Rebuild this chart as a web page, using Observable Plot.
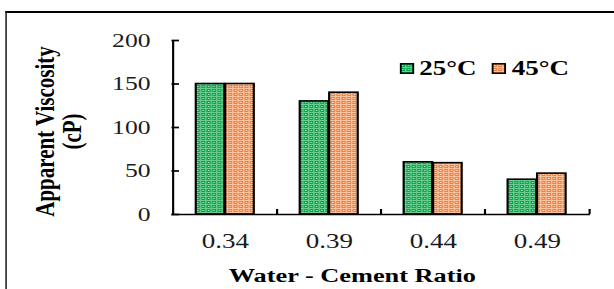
<!DOCTYPE html>
<html>
<head>
<meta charset="utf-8">
<script src="https://cdn.jsdelivr.net/npm/d3@7"></script>
<script src="https://cdn.jsdelivr.net/npm/@observablehq/plot@0.6"></script>
<style>
  html, body { margin: 0; padding: 0; background: #fff; width: 614px; height: 289px; overflow: hidden; }
  #wrap { position: absolute; left: 0; top: 0; width: 455px; height: 289px; transform: scaleX(1.35); transform-origin: 0 0; }
  #chart { position: absolute; left: 0; top: 0; width: 455px; height: 289px; }
  #chart svg { background: transparent; max-width: none; }
  #frame { position: absolute; left: 4.4px; top: 11px; width: 700px; height: 400px; border-left: 1.7px solid #000; border-top: 2.3px solid #000; }
  #legend { position: absolute; left: 295.6px; top: 57px; display: flex; align-items: center; font-family: "Liberation Serif", serif; font-weight: bold; font-size: 20px; color: #000; }
  #legend svg { display: block; margin-right: 4px; }
  #legend span { margin-right: 11px; line-height: 22px; }
</style>
</head>
<body>
<div id="wrap">
  <div id="chart"></div>
  <div id="frame"></div>
  <div id="legend"></div>
</div>
<script>
// ---- data ----
const ratios = ["0.34", "0.39", "0.44", "0.49"];
const series = ["25°C", "45°C"];
const visc25 = [150, 130, 60, 40];
const visc45 = [150, 140, 59, 47];
const yTicks = [0, 50, 100, 150, 200];
const yTitle = "Apparent Viscosity\n(cP)";
const xTitle = "Water - Cement Ratio";

// ---- layout ----
const W = 455, H = 289, mL = 127, mR = 18, mT = 40, mB = 75;
const frameW = W - mL - mR, frameH = H - mT - mB;
const padIn = 0.437;
const step = frameW / ratios.length;
const half = step * (1 - padIn) / 2;
const ink = "#000";

const rows25 = ratios.map((r, i) => ({ratio: r, v: visc25[i]}));
const rows45 = ratios.map((r, i) => ({ratio: r, v: visc45[i]}));

const defs = `
<pattern id="pg" width="4" height="4" patternUnits="userSpaceOnUse">
  <rect width="4" height="4" fill="#03a84f"/>
  <rect width="4" height="1" fill="#6ccb8e"/>
  <rect width="1" height="4" fill="#6ccb8e"/>
  <rect x="2" y="2" width="1" height="1" fill="#b5e8c6"/>
</pattern>
<pattern id="po" width="4" height="4" patternUnits="userSpaceOnUse">
  <rect width="4" height="4" fill="#ef7f3e"/>
  <rect width="4" height="1" fill="#f9c29c"/>
  <rect width="1" height="4" fill="#f9c29c"/>
  <rect x="2" y="2" width="1" height="1" fill="#fff1e6"/>
</pattern>`;

const plot = Plot.plot({
  width: W, height: H,
  marginLeft: mL, marginRight: mR, marginTop: mT, marginBottom: mB,
  style: {fontFamily: "'Liberation Serif', serif", color: ink, background: "transparent", overflow: "visible"},
  x: {domain: ratios, paddingInner: padIn, paddingOuter: padIn / 2, label: null},
  y: {domain: [0, 200], label: null},
  marks: [
    Plot.barY(rows25, {x: "ratio", y: "v", fill: "url(#pg)", stroke: ink, strokeWidth: 1.6, insetRight: half}),
    Plot.barY(rows45, {x: "ratio", y: "v", fill: "url(#po)", stroke: ink, strokeWidth: 1.6, insetLeft: half}),
    Plot.ruleY([0], {stroke: ink, strokeWidth: 1.7}),
    Plot.tickX([ratios[0]], {x: d => d, dx: -step / 2, stroke: ink, strokeWidth: 1.6}),
    Plot.tickY(yTicks, {y: d => d, insetRight: frameW - 5.6, stroke: ink, strokeWidth: 1.7}),
    Plot.tickX(ratios.slice(1), {x: d => d, dx: -step / 2, insetTop: frameH - 5, stroke: ink, strokeWidth: 1.6}),
    Plot.tickX([ratios[ratios.length - 1]], {x: d => d, dx: step / 2, insetTop: frameH - 5, stroke: ink, strokeWidth: 1.6}),
    Plot.axisY({ticks: yTicks, tickSize: 0, tickPadding: 16, fontSize: 19, fill: "#1a1a1a", label: null}),
    Plot.axisX({tickSize: 0, tickPadding: 19, fontSize: 20, fill: "#1a1a1a", label: null}),
    Plot.text([yTitle], {frameAnchor: "left", textAnchor: "middle", rotate: -90, dx: -83.8, dy: 4, lineHeight: 0.95, lineAnchor: "middle", fontSize: 21, fontWeight: "bold", fill: ink}),
    Plot.text([xTitle], {frameAnchor: "bottom", dx: -21.5, dy: 61, lineAnchor: "middle", fontSize: 19.5, fontWeight: "bold", fill: ink})
  ]
});
d3.select(plot).insert("defs", ":first-child").html(defs);
document.getElementById("chart").appendChild(plot);

// ---- legend ----
const legend = d3.select("#legend");
const pats = ["url(#pg)", "url(#po)"];
series.forEach((s, i) => {
  const sv = legend.append("svg").attr("width", 11).attr("height", 11);
  sv.append("rect").attr("x", 0.8).attr("y", 0.8).attr("width", 9.4).attr("height", 9.4)
    .attr("fill", pats[i]).attr("stroke", ink).attr("stroke-width", 1.5);
  legend.append("span").text(s);
});
</script>
</body>
</html>
